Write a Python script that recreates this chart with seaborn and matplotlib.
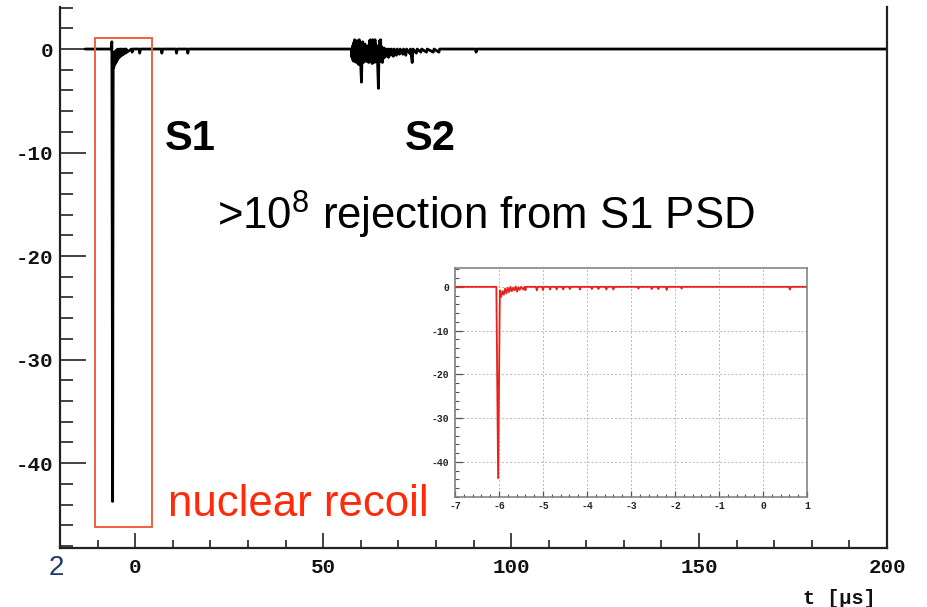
import matplotlib
matplotlib.use("Agg")
import matplotlib.pyplot as plt
import seaborn as sns
from matplotlib.patches import Rectangle
from matplotlib.ticker import MultipleLocator

# ---------------- data ----------------
# main waveform (time in microseconds, amplitude)
t_main = [-13.3, -6.4, -6.2, -6.0, -5.85, -5.7, -5.55, -5.4, -5.25, -5.1, -4.95, -4.8,
          -4.65, -4.5, -4.35, -4.2, -4.05, -3.9, -3.7, -3.5, -3.3, -3.1, -2.8, -2.6,
          -2.4, -2.2, -1.0, -0.8, -0.6, 1.0, 1.2, 1.4,
          6.9, 7.1, 7.3, 10.8, 11.0, 11.2, 13.8, 14.0, 14.2,
          57.50, 57.65, 57.80, 57.95, 58.10, 58.25, 58.40, 58.55, 58.70, 58.85,
          59.00, 59.15, 59.30, 59.45, 59.60, 59.75, 59.90, 60.05, 60.20, 60.35,
          60.50, 60.65, 60.80, 60.95, 61.10, 61.25, 61.40, 61.55, 61.70, 61.85,
          62.00, 62.15, 62.30, 62.45, 62.60, 62.75, 62.90, 63.05, 63.20, 63.35,
          63.50, 63.65, 63.80, 63.95, 64.10, 64.25, 64.40, 64.55, 64.70, 64.85,
          65.00, 65.15, 65.30, 65.45, 65.60, 65.75, 65.90, 66.05, 66.20, 66.35,
          66.50, 66.8, 67.0, 67.4, 67.6, 68.0, 68.2, 68.7, 68.9, 69.5, 69.7,
          70.3, 70.5, 71.2, 71.4, 72.0, 72.2, 73.0, 73.2, 73.7, 73.9, 74.8, 75.0,
          76.0, 76.2, 77.5, 77.7, 79.3, 79.5, 80.8, 81.0, 90.5, 90.7, 90.9, 200.0]
v_main = [0.0, 0.0, 0.7, -43.7, -0.5, -1.8, -0.3, -1.5, -0.2, -1.3, -0.1, -1.1,
          0.0, -0.9, -0.1, -0.8, 0.0, -0.7, 0.0, -0.6, 0.0, -0.5, 0.0, -0.4,
          0.0, -0.3, 0.0, -0.3, 0.0, 0.0, -0.4, 0.0,
          0.0, -0.4, 0.0, 0.0, -0.4, 0.0, 0.0, -0.4, 0.0,
          0.0, -0.8, 0.3, -1.1, 0.6, -1.2, 0.9, -1.0, 0.2, -1.3,
          0.8, -1.2, 0.4, -1.5, 0.9, -1.1, -0.2, -2.0, -3.2, -0.6,
          0.7, -1.3, 0.2, -1.2, 0.5, -1.0, 0.1, -1.2, 0.3, -0.9,
          0.2, -1.3, 0.8, -1.1, 0.9, -1.2, 0.5, -1.4, 0.9, -1.0,
          0.6, -1.3, 0.9, -1.1, 0.4, -1.2, -0.3, -2.2, -3.8, -0.5,
          0.8, -1.2, 0.9, -1.0, 0.2, -1.3, 0.0, -0.9, 0.1, -0.8,
          0.0, -0.7, 0.0, -0.8, 0.0, -0.6, 0.0, -0.7, 0.0, -0.6, 0.0,
          -0.5, 0.0, -0.5, 0.0, -0.6, 0.0, -0.4, 0.0, -1.3, 0.0, -0.4, 0.0,
          -0.3, 0.0, -0.3, 0.0, -0.3, 0.0, -0.3, 0.0, 0.0, -0.3, 0.0, 0.0]

# zoomed S1 waveform (inset)
t_inset = [-7.0, -6.06, -6.02, -5.98, -5.95, -5.92, -5.89, -5.86, -5.83, -5.80, -5.77,
           -5.74, -5.71, -5.68, -5.65, -5.62, -5.59, -5.56, -5.53, -5.50, -5.45,
           -5.42, -5.40, -5.38, -5.16, -5.14, -5.12, -5.02, -5.00, -4.98, -4.86,
           -4.84, -4.82, -4.71, -4.69, -4.67, -4.56, -4.54, -4.52, -4.41, -4.39,
           -4.37, -4.18, -4.16, -4.14, -3.91, -3.89, -3.87, -3.76, -3.74, -3.72,
           -3.58, -3.56, -3.54, -3.42, -3.40, -3.38, -2.85, -2.83, -2.81, -2.55,
           -2.53, -2.51, -2.40, -2.38, -2.36, -2.21, -2.19, -2.17, -1.87, -1.85,
           -1.83, 0.59, 0.61, 0.63, 1.0]
v_inset = [0.0, 0.0, -43.7, -0.8, -2.3, -1.0, -1.8, -0.4, -1.5, -0.2, -1.2,
           0.0, -1.0, -0.2, -0.8, 0.1, -1.1, -0.1, -0.7, 0.0, -0.6,
           0.0, -0.8, 0.0, 0.0, -0.8, 0.0, 0.0, -0.7, 0.0, 0.0,
           -0.6, 0.0, 0.0, -0.6, 0.0, 0.0, -0.6, 0.0, 0.0, -0.5,
           0.0, 0.0, -0.6, 0.0, 0.0, -0.5, 0.0, 0.0, -0.5, 0.0,
           0.0, -0.6, 0.0, 0.0, -0.6, 0.0, 0.0, -0.4, 0.0, 0.0,
           -0.5, 0.0, 0.0, -0.5, 0.0, 0.0, -0.7, 0.0, 0.0, -0.4,
           0.0, 0.0, -0.6, 0.0, 0.0]

x_major_main = 50
y_major_main = 10

# ---------------- style ----------------
sns.set_theme(style="white")
plt.rcParams["font.family"] = ["Liberation Sans", "DejaVu Sans"]
plt.rcParams["mathtext.fontset"] = "custom"
plt.rcParams["mathtext.rm"] = "Liberation Sans"
plt.rcParams["axes.unicode_minus"] = False

fig = plt.figure(figsize=(9.28, 6.07), dpi=100)
W, H = 928, 607

def box(l, t, r, b):
    return [l / W, 1 - b / H, (r - l) / W, (b - t) / H]

# ---------------- main axes ----------------
ax = fig.add_axes(box(60, 7, 887, 548))
sns.lineplot(x=t_main, y=v_main, ax=ax, color="black", lw=2.0,
             estimator=None, sort=False)
ax.set_xlim(-20, 200)
ax.set_ylim(-48.2, 4.06)
ax.set_xlabel("")
ax.set_ylabel("")
ax.spines["top"].set_visible(False)
for s in ["left", "bottom", "right"]:
    ax.spines[s].set_linewidth(1.6)
    ax.spines[s].set_color("#222222")
ax.xaxis.set_major_locator(MultipleLocator(x_major_main))
ax.xaxis.set_minor_locator(MultipleLocator(10))
ax.yaxis.set_major_locator(MultipleLocator(y_major_main))
ax.yaxis.set_minor_locator(MultipleLocator(2))
ax.tick_params(axis="y", which="major", direction="in", length=19, width=1.3,
               color="#333333", pad=5, left=True, right=False)
ax.tick_params(axis="y", which="minor", direction="in", length=9, width=1.3,
               color="#333333", left=True, right=False)
ax.tick_params(axis="x", which="major", direction="in", length=11, width=1.3,
               color="#333333", pad=7, bottom=True, top=False)
ax.tick_params(axis="x", which="minor", direction="in", length=5.5, width=1.3,
               color="#333333", bottom=True, top=False)
for lab in ax.get_xticklabels() + ax.get_yticklabels():
    lab.set_fontfamily("Liberation Mono")
    lab.set_fontweight("bold")
    lab.set_fontsize(15)
    lab.set_color("#111111")

ax.add_patch(Rectangle((-10.6, -46.2), 15.1, 47.3, fill=False,
                       ec="#f0603f", lw=1.4, clip_on=False, zorder=5))

fig.text(165 / W, 1 - 139 / H, "S1", fontsize=30, fontweight="bold",
         ha="left", va="center", color="black")
fig.text(405 / W, 1 - 139 / H, "S2", fontsize=30, fontweight="bold",
         ha="left", va="center", color="black")
fig.text(217 / W, 1 - 215 / H, r">10$^{8}$ rejection from S1 PSD", fontsize=31.5,
         ha="left", va="center", color="black")
fig.text(168 / W, 1 - 505 / H, "nuclear recoil", fontsize=31.5,
         ha="left", va="center", color="#ff2a0a")
fig.text(876 / W, 1 - 598 / H, "t [µs]", fontsize=14.5, fontweight="bold",
         family="Liberation Mono", ha="right", va="center", color="#111111")
fig.text(56 / W, 1 - 568 / H, "2", fontsize=20, ha="center", va="center",
         color="#1f3b66")

# ---------------- inset ----------------
axi = fig.add_axes(box(455, 268, 807, 497))
sns.lineplot(x=t_inset, y=v_inset, ax=axi, color="#e8221a", lw=1.3,
             estimator=None, sort=False)
axi.set_xlim(-7, 1)
axi.set_ylim(-48, 4.3)
axi.set_xlabel("")
axi.set_ylabel("")
for s in axi.spines.values():
    s.set_linewidth(1.1)
    s.set_color("#7a7a7a")
axi.xaxis.set_major_locator(MultipleLocator(1))
axi.xaxis.set_minor_locator(MultipleLocator(0.2))
axi.yaxis.set_major_locator(MultipleLocator(10))
axi.yaxis.set_minor_locator(MultipleLocator(2))
axi.grid(True, which="major", color="#b8b8b8", lw=0.7, ls=(0, (2, 2)))
axi.tick_params(axis="y", which="major", direction="in", length=6, width=0.9,
                color="#555555", pad=4, left=True, right=False)
axi.tick_params(axis="y", which="minor", direction="in", length=3, width=0.8,
                color="#555555", left=True, right=False)
axi.tick_params(axis="x", which="major", direction="in", length=4, width=0.9,
                color="#555555", pad=3, bottom=True, top=False)
axi.tick_params(axis="x", which="minor", direction="in", length=2.5, width=0.8,
                color="#555555", bottom=True, top=False)
for lab in axi.get_xticklabels() + axi.get_yticklabels():
    lab.set_fontfamily("Liberation Mono")
    lab.set_fontweight("bold")
    lab.set_fontsize(7)
    lab.set_color("#222222")

fig.savefig("out.png", dpi=100, facecolor="white")
